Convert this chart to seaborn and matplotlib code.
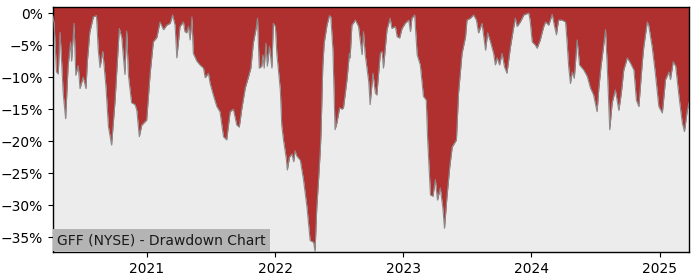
import matplotlib
matplotlib.use("Agg")
import matplotlib.pyplot as plt
import matplotlib.dates as mdates
from matplotlib.ticker import PercentFormatter, MultipleLocator
import seaborn as sns
import pandas as pd

title = "GFF (NYSE) - Drawdown Chart"

dates = [
    "2020-04-08", "2020-04-11", "2020-04-18", "2020-04-23", "2020-04-28", "2020-05-03", "2020-05-07",
    "2020-05-14", "2020-05-21", "2020-05-28", "2020-05-31", "2020-06-07", "2020-06-12", "2020-06-19",
    "2020-06-24", "2020-07-03", "2020-07-11", "2020-07-15", "2020-07-22", "2020-08-01", "2020-08-10",
    "2020-08-15", "2020-08-20", "2020-08-28", "2020-09-06", "2020-09-13", "2020-09-22", "2020-10-02",
    "2020-10-14", "2020-10-21", "2020-10-30", "2020-11-04", "2020-11-09", "2020-11-18", "2020-11-28",
    "2020-12-03", "2020-12-10", "2020-12-17", "2020-12-31",
    "2021-01-10", "2021-01-19", "2021-01-29", "2021-02-07", "2021-02-17", "2021-02-26", "2021-03-08",
    "2021-03-15", "2021-03-22", "2021-03-27", "2021-04-05", "2021-04-15", "2021-04-19", "2021-04-24",
    "2021-04-29", "2021-05-04", "2021-05-09", "2021-05-13", "2021-05-23", "2021-06-01", "2021-06-11",
    "2021-06-16", "2021-06-25", "2021-06-30", "2021-07-09", "2021-07-19", "2021-07-28", "2021-08-07",
    "2021-08-16", "2021-08-26", "2021-09-04", "2021-09-14", "2021-09-21", "2021-09-28", "2021-10-08",
    "2021-10-17", "2021-10-24", "2021-10-31", "2021-11-08", "2021-11-12", "2021-11-17", "2021-11-24",
    "2021-11-27", "2021-12-01", "2021-12-06", "2021-12-10", "2021-12-16", "2021-12-23", "2021-12-27",
    "2022-01-02", "2022-01-06", "2022-01-16", "2022-01-20", "2022-01-25", "2022-02-02", "2022-02-05",
    "2022-02-11", "2022-02-18", "2022-02-23", "2022-02-27", "2022-03-04", "2022-03-14", "2022-03-23",
    "2022-04-02", "2022-04-11", "2022-04-21", "2022-04-25", "2022-04-30", "2022-05-05", "2022-05-10",
    "2022-05-12", "2022-05-17", "2022-05-21", "2022-05-29", "2022-06-05", "2022-06-09", "2022-06-15",
    "2022-06-21", "2022-06-26", "2022-07-04", "2022-07-11", "2022-07-15", "2022-07-25", "2022-08-01",
    "2022-08-03", "2022-08-08", "2022-08-18", "2022-08-27", "2022-09-06", "2022-09-10", "2022-09-15",
    "2022-09-25", "2022-09-29", "2022-10-07", "2022-10-14", "2022-10-18", "2022-10-28", "2022-11-02",
    "2022-11-06", "2022-11-16", "2022-11-25", "2022-11-30", "2022-12-10", "2022-12-15", "2022-12-22",
    "2022-12-29",
    "2023-01-07", "2023-01-17", "2023-01-22", "2023-01-26", "2023-02-03", "2023-02-10", "2023-02-19",
    "2023-02-28", "2023-03-08", "2023-03-12", "2023-03-20", "2023-03-27", "2023-04-03", "2023-04-09",
    "2023-04-17", "2023-04-24", "2023-04-29", "2023-05-06", "2023-05-14", "2023-05-21", "2023-06-02",
    "2023-06-08", "2023-06-18", "2023-06-28", "2023-07-02", "2023-07-12", "2023-07-21", "2023-07-29",
    "2023-08-04", "2023-08-14", "2023-08-24", "2023-08-30", "2023-09-07", "2023-09-16", "2023-09-21",
    "2023-09-26", "2023-10-03", "2023-10-10", "2023-10-17", "2023-10-24", "2023-11-03", "2023-11-11",
    "2023-11-17", "2023-11-22", "2023-12-01", "2023-12-11", "2023-12-25", "2023-12-29",
    "2024-01-04", "2024-01-13", "2024-01-18", "2024-01-27", "2024-02-01", "2024-02-06", "2024-02-11",
    "2024-02-20", "2024-03-01", "2024-03-07", "2024-03-13", "2024-03-19", "2024-03-29", "2024-04-08",
    "2024-04-12", "2024-04-17", "2024-04-22", "2024-04-27", "2024-05-03", "2024-05-11", "2024-05-18",
    "2024-05-30", "2024-06-09", "2024-06-18", "2024-06-27", "2024-07-07", "2024-07-12", "2024-07-18",
    "2024-07-24", "2024-07-31", "2024-08-05", "2024-08-12", "2024-08-19", "2024-08-28", "2024-09-07",
    "2024-09-14", "2024-09-21", "2024-10-01", "2024-10-10", "2024-10-20", "2024-10-27", "2024-11-03",
    "2024-11-13", "2024-11-17", "2024-11-27", "2024-12-01", "2024-12-11", "2024-12-20", "2024-12-30",
    "2025-01-09", "2025-01-18", "2025-01-28", "2025-02-01", "2025-02-09", "2025-02-16", "2025-02-25",
    "2025-03-07", "2025-03-13", "2025-03-21", "2025-03-26",
]

drawdown_pct = [
    -0.5, -1.6, -9.2, -9.5, -3.0, -8.0, -12.5,
    -16.5, -8.4, -4.5, -7.5, -1.6, -9.7, -8.2,
    -11.8, -10.0, -11.8, -7.5, -3.0, -0.6, -0.4,
    -5.8, -8.5, -6.0, -11.5, -17.7, -20.6, -13.6,
    -2.4, -3.8, -9.6, -2.8, -9.7, -14.0, -14.3,
    -15.2, -19.3, -17.5, -16.7,
    -9.4, -4.5, -3.8, -1.4, -2.6, -1.9, -1.6,
    -0.3, -1.9, -7.0, -2.1, -1.4, -2.9, -3.1,
    -2.1, -4.2, -0.6, -6.3, -7.5, -8.1, -8.6,
    -10.1, -9.4, -11.0, -12.8, -14.6, -15.4, -19.3,
    -19.8, -15.4, -15.0, -17.5, -17.8, -15.0, -11.7,
    -10.0, -8.6, -4.7, -2.4, -0.8, -8.6, -8.3,
    -6.5, -8.6, -4.7, -8.3, -5.2, -8.6, -1.6,
    -2.1, -6.3, -12.0, -17.5, -19.8, -22.7, -24.5,
    -22.5, -22.0, -23.2, -21.5, -22.3, -23.0, -26.0,
    -30.3, -35.5, -35.8, -37.2, -30.3, -26.0, -21.4,
    -18.8, -8.4, -4.7, -1.9, -0.4, -0.6, -5.8,
    -18.2, -17.2, -14.8, -15.0, -14.8, -10.4, -6.3,
    -7.0, -1.9, -1.1, -2.1, -6.5, -2.9, -6.5,
    -10.7, -14.3, -9.4, -12.5, -12.8, -6.3, -6.0,
    -8.6, -2.6, -0.8, -2.4, -2.1, -3.7, -3.9,
    -2.4,
    -1.6, -1.1, -2.9, -0.8, -0.3, -6.5, -8.1,
    -13.0, -13.6, -19.8, -28.4, -28.6, -26.0, -29.2,
    -27.3, -30.3, -33.6, -28.7, -24.0, -20.9, -19.8,
    -12.5, -6.3, -3.7, -1.1, -0.8, -0.3, -1.1,
    -3.1, -1.6, -5.8, -3.1, -4.5, -6.3, -8.1,
    -7.0, -8.1, -6.3, -8.4, -9.4, -5.3, -2.6,
    -0.8, -2.1, -1.4, -0.3, 0.0, -1.1,
    -4.5, -5.0, -5.5, -4.2, -3.1, -2.1, -1.4,
    -1.9, -0.2, -1.9, -3.4, -1.1, -1.1, -1.4,
    -4.2, -8.4, -11.0, -9.2, -10.2, -4.2, -8.1,
    -8.9, -9.9, -11.7, -12.8, -15.4, -11.7, -8.4,
    -5.8, -2.6, -8.4, -18.2, -14.0, -12.0, -15.2,
    -12.5, -8.9, -7.0, -7.8, -8.9, -13.6, -14.6,
    -7.6, -5.3, -1.4, -1.9, -5.3, -9.4, -14.6,
    -15.6, -10.4, -9.2, -10.4, -7.6, -8.3, -12.8,
    -17.2, -18.5, -15.2, -14.0,
]

df = pd.DataFrame({"date": pd.to_datetime(dates), "drawdown": drawdown_pct})

fig = plt.figure(figsize=(7, 2.8), dpi=100)
ax = fig.add_axes([0.0757, 0.1, 0.9086, 0.875])
ax.set_facecolor("#ececec")

y_top = 0.94
y_bottom = -37.3

ax.fill_between(df["date"], df["drawdown"], y_top, color="#b02f2f", linewidth=0, zorder=2)
sns.lineplot(data=df, x="date", y="drawdown", ax=ax, color="#8a8a8a", linewidth=0.8, zorder=3)

ax.set_xlim(df["date"].iloc[0], df["date"].iloc[-1])
ax.set_ylim(y_bottom, y_top)
ax.yaxis.set_major_locator(MultipleLocator(5))
ax.yaxis.set_major_formatter(PercentFormatter(100, decimals=0))
ax.xaxis.set_major_locator(mdates.YearLocator())
ax.xaxis.set_major_formatter(mdates.DateFormatter("%Y"))
ax.set_xlabel("")
ax.set_ylabel("")
ax.tick_params(labelsize=10)
for s in ax.spines.values():
    s.set_color("black")
    s.set_linewidth(1.0)

ax.annotate(title, xy=(0, 0), xycoords="axes fraction", xytext=(3, 3.5), textcoords="offset points",
            ha="left", va="bottom", fontsize=10, color="#1a1a1a",
            bbox=dict(facecolor="#b4b4b4", edgecolor="none", pad=3), zorder=5)

fig.savefig("out.png", dpi=100)
